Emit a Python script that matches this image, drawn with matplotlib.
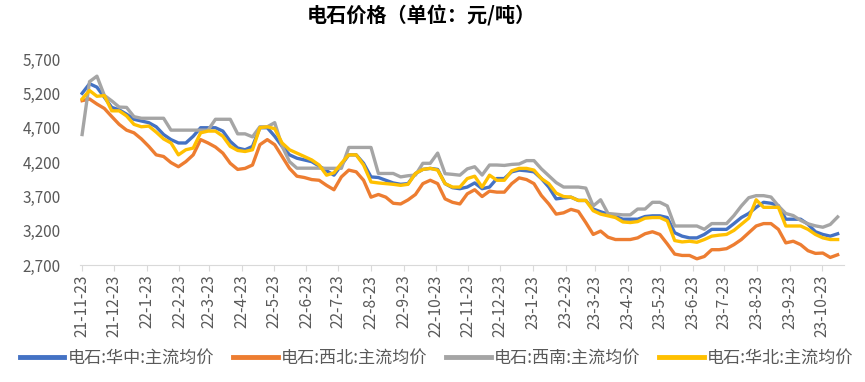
import matplotlib
matplotlib.use("Agg")
import matplotlib.pyplot as plt
from matplotlib.ticker import FuncFormatter
import pandas as pd

plt.rcParams['font.family'] = ['Noto Sans CJK SC', 'DejaVu Sans']

title = "电石价格（单位：元/吨）"
series_names = ["电石:华中:主流均价", "电石:西北:主流均价", "电石:西南:主流均价", "电石:华北:主流均价"]
colors = ["#4472C4", "#ED7D31", "#A5A5A5", "#FFC000"]

dates = pd.date_range("2021-11-23", periods=103, freq="7D")

central = [5200, 5340, 5290, 5143, 4995, 4960, 4896, 4822, 4797, 4773,
           4713, 4600, 4526, 4477, 4477, 4575, 4699, 4699, 4699, 4650,
           4500, 4403, 4378, 4427, 4699, 4699, 4575, 4427, 4304, 4255,
           4230, 4205, 4141, 4072, 4008, 4156, 4304, 4304, 4181, 3983,
           3974, 3934, 3895, 3875, 3885, 4033, 4092, 4107, 4092, 3885,
           3826, 3811, 3835, 3895, 3811, 3835, 3959, 3959, 4057, 4082,
           4072, 4057, 3959, 3835, 3663, 3678, 3688, 3640, 3640, 3515,
           3475, 3441, 3406, 3367, 3367, 3367, 3406, 3416, 3416, 3391,
           3170, 3120, 3095, 3095, 3145, 3219, 3219, 3219, 3303, 3391,
           3451, 3540, 3613, 3599, 3564, 3367, 3367, 3367, 3293, 3184,
           3145, 3120, 3155]

northwest = [5093, 5118, 5044, 4980, 4862, 4748, 4664, 4625, 4536, 4427,
             4304, 4280, 4191, 4131, 4205, 4304, 4526, 4477, 4418, 4329,
             4181, 4092, 4107, 4156, 4452, 4526, 4452, 4280, 4107, 3993,
             3974, 3944, 3934, 3860, 3796, 3983, 4082, 4057, 3934, 3688,
             3727, 3688, 3599, 3589, 3648, 3727, 3885, 3934, 3885, 3663,
             3613, 3589, 3737, 3796, 3697, 3776, 3761, 3761, 3885, 3969,
             3944, 3885, 3712, 3589, 3441, 3460, 3510, 3480, 3318, 3145,
             3194, 3105, 3071, 3071, 3071, 3095, 3155, 3184, 3145, 3007,
             2859, 2839, 2839, 2790, 2824, 2923, 2923, 2938, 2997, 3071,
             3170, 3268, 3303, 3303, 3219, 3022, 3046, 2997, 2908, 2869,
             2874, 2810, 2849]

southwest = [4600, 5370, 5450, 5170, 5090, 5000, 4995, 4860, 4837, 4837,
             4837, 4837, 4664, 4664, 4664, 4664, 4664, 4664, 4822, 4822,
             4822, 4610, 4610, 4566, 4713, 4713, 4773, 4430, 4205, 4110,
             4110, 4110, 4110, 4108, 4108, 4108, 4412, 4412, 4412, 4412,
             4033, 4033, 4033, 3983, 4000, 4010, 4181, 4181, 4330, 4030,
             4020, 4008, 4100, 4131, 4010, 4156, 4156, 4150, 4165, 4171,
             4220, 4220, 4100, 4000, 3900, 3835, 3835, 3835, 3820, 3560,
             3650, 3450, 3440, 3430, 3430, 3515, 3515, 3613, 3613, 3560,
             3268, 3268, 3268, 3268, 3220, 3303, 3303, 3303, 3420, 3560,
             3680, 3710, 3710, 3690, 3560, 3450, 3420, 3350, 3300, 3270,
             3250, 3290, 3400]

north = [5118, 5241, 5157, 5167, 4945, 4945, 4871, 4748, 4713, 4723,
         4635, 4536, 4477, 4304, 4378, 4403, 4625, 4650, 4650, 4575,
         4427, 4368, 4353, 4378, 4699, 4713, 4684, 4477, 4378, 4329,
         4280, 4230, 4156, 4008, 4043, 4181, 4304, 4304, 4156, 3909,
         3895, 3885, 3875, 3860, 3875, 4033, 4092, 4107, 4082, 3885,
         3835, 3835, 3959, 3993, 3835, 4008, 3934, 3934, 4072, 4107,
         4107, 4082, 3959, 3885, 3747, 3697, 3688, 3640, 3640, 3490,
         3441, 3416, 3391, 3327, 3318, 3332, 3382, 3391, 3391, 3342,
         3056, 3036, 3046, 3031, 3071, 3120, 3135, 3145, 3204, 3293,
         3382, 3650, 3540, 3540, 3540, 3268, 3268, 3268, 3219, 3145,
         3095, 3071, 3071]

tick_dates = pd.date_range("2021-11-01", "2023-10-01", freq="MS") + pd.Timedelta(days=22)
y_ticks = [2700, 3200, 3700, 4200, 4700, 5200, 5700]

fig = plt.figure(figsize=(8.65, 3.82), dpi=100)
ax = fig.add_axes([80/865, 1-265/382, 764/865, (265-59)/382])

for vals, name, c in zip([central, northwest, southwest, north], series_names, colors):
    ax.plot(dates, vals, color=c, lw=2.4, label=name, solid_joinstyle="round")

ax.set_ylim(2700, 5700)
ax.set_yticks(y_ticks)
ax.yaxis.set_major_formatter(FuncFormatter(lambda v, p: f"{int(v):,}"))
ax.set_xlim(pd.Timestamp("2021-11-21"), pd.Timestamp("2023-11-13"))
ax.set_xticks(tick_dates)
ax.set_xticklabels([f"{d.year % 100}-{d.month}-{d.day}" for d in tick_dates])

for s in ["top", "right", "left"]:
    ax.spines[s].set_visible(False)
ax.spines["bottom"].set_color("#D9D9D9")
ax.tick_params(axis="y", length=0, pad=14, labelsize=11, labelcolor="#595959")
ax.tick_params(axis="x", direction="out", length=4, color="#D9D9D9", pad=3,
               labelsize=11.2, labelcolor="#595959", labelrotation=90)

fig.text(0.487, 1-16/382, title, ha="center", va="center", fontsize=14.5,
         fontweight="bold", color="#000000")

leg = fig.legend(loc="center", bbox_to_anchor=(0.505, 1-358/382), ncol=4, frameon=False,
                 fontsize=12.3, handlelength=2.6, handletextpad=0.2, columnspacing=1.1)
for t in leg.get_texts():
    t.set_color("#595959")
for l in leg.get_lines():
    l.set_linewidth(3.5)

fig.savefig("out.png", dpi=100)
